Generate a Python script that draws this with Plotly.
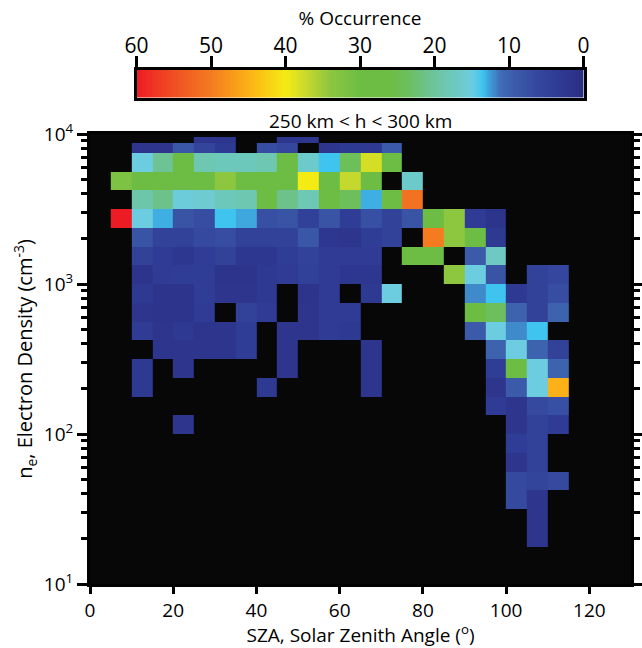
import numpy as np
import plotly.graph_objects as go

N = None

# SZA bin edges (degrees), 5-degree bins from 5 to 115
sza_edges = [5, 10, 15, 20, 25, 30, 35, 40, 45, 50, 55, 60, 65, 70, 75,
             80, 85, 90, 95, 100, 105, 110, 115]

# log10(ne) bin edges (cm^-3); top bin is split in two thinner rows
log_ne_edges = [1.25, 1.375, 1.5, 1.625, 1.75, 1.875, 2.0, 2.125, 2.25, 2.375,
                2.5, 2.625, 2.75, 2.875, 3.0, 3.125, 3.25, 3.375, 3.5, 3.625,
                3.75, 3.875, 3.9375, 3.98]

# % occurrence per row (bottom -> top), columns follow sza_edges bins
occ_1250 = [N,N,N,N,N,N,N,N,N,N,N,N,N,N,N,N,N,N,N,N,2,N]
occ_1375 = [N,N,N,N,N,N,N,N,N,N,N,N,N,N,N,N,N,N,N,N,2,N]
occ_1500 = [N,N,N,N,N,N,N,N,N,N,N,N,N,N,N,N,N,N,N,6.5,2,N]
occ_1625 = [N,N,N,N,N,N,N,N,N,N,N,N,N,N,N,N,N,N,N,6.5,5.5,6.5]
occ_1750 = [N,N,N,N,N,N,N,N,N,N,N,N,N,N,N,N,N,N,N,2,5,N]
occ_1875 = [N,N,N,N,N,N,N,N,N,N,N,N,N,N,N,N,N,N,N,4,5,N]
occ_2000 = [N,N,N,2,N,N,N,N,N,N,N,N,N,N,N,N,N,N,N,2,5,3.5]
occ_2125 = [N,N,N,N,N,N,N,N,N,N,N,N,N,N,N,N,N,N,3.5,2,6.5,7.5]
occ_2250 = [N,3,N,N,N,N,N,3,N,N,N,N,2,N,N,N,N,N,2,9,15,45]
occ_2375 = [N,3,N,2,N,N,N,N,2,N,N,N,2,N,N,N,N,N,4,27,15,10]
occ_2500 = [N,N,2,2,2,2,4,N,2,N,N,N,2,N,N,N,N,N,10,15,10,5]
occ_2625 = [N,3.5,2,3,2,2,4,N,2,2,3.5,3,N,N,N,N,N,9,15,12,13.5,N]
occ_2750 = [N,2,1.5,1.5,3.5,N,5,3.5,N,2,3.5,3.5,N,N,N,N,N,27,23.5,10,5,10]
occ_2875 = [N,3,1.5,1.5,4,2,2,3,N,1.5,3.5,N,3,15,N,N,N,12,13.5,3,5,7]
occ_3000 = [N,1.5,3.5,4,4,1.5,1.5,3,3.5,4.5,3.5,2.5,2.5,N,N,N,34,15,8,N,5,6]
occ_3125 = [N,5,3.5,2.5,4,5,2.5,2.5,4,5,3.5,3.5,3.5,N,27,27,N,9,17,N,N,N]
occ_3250 = [N,8,5,5,6.5,7,5,5,5,8.5,2.5,2,4,5,N,50,34,27,3,N,N,N]
occ_3375 = [60,15,13,8,7,13.5,12.8,7.5,8,4.5,8,4,7.5,5,8,27,34,3.5,1.5,N,N,N]
occ_3500 = [N,19,21,15.5,16,17.5,18.5,27,21,18,27,24,13,27,51,N,N,N,N,N,N,N]
occ_3625 = [32,27,27,27,27,34,27,27,27,40,27,37,27,N,16.5,N,N,N,N,N,N,N]
occ_3750 = [N,15,20.5,27,18.5,17.5,17.5,18.5,27,16.5,13.5,24,38,27,N,N,N,N,N,N,N,N]
occ_3875 = [N,2,2,8.5,5.5,3,N,7,6,N,2,3,3,9,N,N,N,N,N,N,N,N]
occ_3938 = [N,N,N,N,2,2,N,N,2,2,N,N,N,N,N,N,N,N,N,N,N,N]

occ_rows = [occ_1250, occ_1375, occ_1500, occ_1625, occ_1750, occ_1875,
            occ_2000, occ_2125, occ_2250, occ_2375, occ_2500, occ_2625,
            occ_2750, occ_2875, occ_3000, occ_3125, occ_3250, occ_3375,
            occ_3500, occ_3625, occ_3750, occ_3875, occ_3938]

x_ticks = [0, 20, 40, 60, 80, 100, 120]
y_ticks = [10, 100, 1000, 10000]
y_ticktext = ["10<sup>1</sup>", "10<sup>2</sup>", "10<sup>3</sup>", "10<sup>4</sup>"]
y_minor = [m * d for d in (10, 100, 1000) for m in range(2, 10)]
cb_ticks = [0, 10, 20, 30, 40, 50, 60]

colorscale = [
    [0 / 60, "#2b2e83"],
    [3 / 60, "#2e3992"],
    [6 / 60, "#34469d"],
    [9 / 60, "#3b5aa9"],
    [11 / 60, "#3f6bb5"],
    [12.5 / 60, "#3f9ad6"],
    [13.5 / 60, "#3ec4ef"],
    [15 / 60, "#6dcde0"],
    [17 / 60, "#6dc9c2"],
    [19 / 60, "#6ec6aa"],
    [21 / 60, "#6dc28c"],
    [23.5 / 60, "#6dbf5e"],
    [26 / 60, "#6dbd45"],
    [30 / 60, "#6dbd45"],
    [34 / 60, "#8dc63f"],
    [37 / 60, "#c4d82e"],
    [40 / 60, "#f5eb14"],
    [45 / 60, "#fbb117"],
    [50 / 60, "#f47b20"],
    [55 / 60, "#f04e23"],
    [60 / 60, "#ed1c24"],
]

FONT = "Open Sans"
ne_edges = [10 ** v for v in log_ne_edges]

fig = go.Figure()
fig.add_trace(go.Heatmap(
    x=sza_edges, y=ne_edges, z=occ_rows,
    colorscale=colorscale, zmin=0, zmax=60, showscale=False,
    hoverongaps=False, xaxis="x", yaxis="y",
))

# colour bar drawn as its own strip on a reversed top axis
cb_vals = np.linspace(0, 60, 361)
fig.add_trace(go.Heatmap(
    x=cb_vals, y=[0, 1], z=[cb_vals, cb_vals],
    colorscale=colorscale, zmin=0, zmax=60, showscale=False,
    xaxis="x2", yaxis="y2", hoverinfo="skip",
))

W, H = 642, 648
ml, mr, mt, mb = 90, 11, 4, 64
pw, ph = W - ml - mr, H - mt - mb


def fx(px):
    return (px - ml) / pw


def fy(py):
    return (H - mb - py) / ph


fig.update_layout(
    width=W, height=H,
    margin=dict(l=ml, r=mr, t=mt, b=mb, autoexpand=False),
    paper_bgcolor="white",
    plot_bgcolor="white",
    font=dict(family=FONT, color="black", size=19),
    showlegend=False,
    xaxis=dict(
        domain=[0, 1], range=[0, 130], anchor="y", automargin=False,
        tickmode="array", tickvals=x_ticks,
        ticks="outside", ticklen=7, tickwidth=3, tickcolor="black",
        showline=True, linecolor="black", linewidth=3, mirror=True,
        showgrid=False, zeroline=False,
        tickfont=dict(size=19),
        title=dict(text="SZA, Solar Zenith Angle (<sup>o</sup>)", font=dict(size=19), standoff=10),
    ),
    yaxis=dict(
        domain=[0, fy(134)], type="log", range=[1, 4], anchor="x", automargin=False,
        tickmode="array", tickvals=y_ticks, ticktext=y_ticktext,
        ticks="outside", ticklen=10, tickwidth=3, tickcolor="black",
        showline=True, linecolor="black", linewidth=3, mirror="ticks",
        showgrid=False, zeroline=False,
        tickfont=dict(size=19),
        minor=dict(tickmode="array", tickvals=y_minor, ticks="outside",
                   ticklen=6, tickwidth=3, tickcolor="black", showgrid=False),
        title=dict(text="n<sub>e</sub>, Electron Density (cm<sup>-3</sup>)", font=dict(size=20), standoff=6),
    ),
    xaxis2=dict(
        domain=[fx(136.5), fx(583.5)], range=[60, 0], anchor="y2", side="top",
        automargin=False,
        tickmode="array", tickvals=cb_ticks,
        ticks="outside", ticklen=11, tickwidth=3, tickcolor="black",
        ticklabelstandoff=-6,
        showline=True, linecolor="black", linewidth=3, mirror=True,
        showgrid=False, zeroline=False,
        tickfont=dict(size=21),
        title=dict(text="% Occurrence", font=dict(size=19), standoff=0),
    ),
    yaxis2=dict(
        domain=[fy(97.5), fy(69.5)], range=[0, 1], anchor="x2", automargin=False,
        showline=True, linecolor="black", linewidth=3, mirror=True,
        showticklabels=False, ticks="", showgrid=False, zeroline=False,
    ),
    annotations=[dict(
        text="250 km < h < 300 km", x=0.5, y=fy(121), xref="paper", yref="paper",
        xanchor="center", yanchor="middle", showarrow=False, font=dict(size=19),
    )],
    shapes=[dict(
        type="rect", xref="x", yref="y domain", x0=0, x1=130, y0=0, y1=1,
        fillcolor="#070707", line=dict(width=0), layer="below",
    )],
)

fig.write_html("out.html")
